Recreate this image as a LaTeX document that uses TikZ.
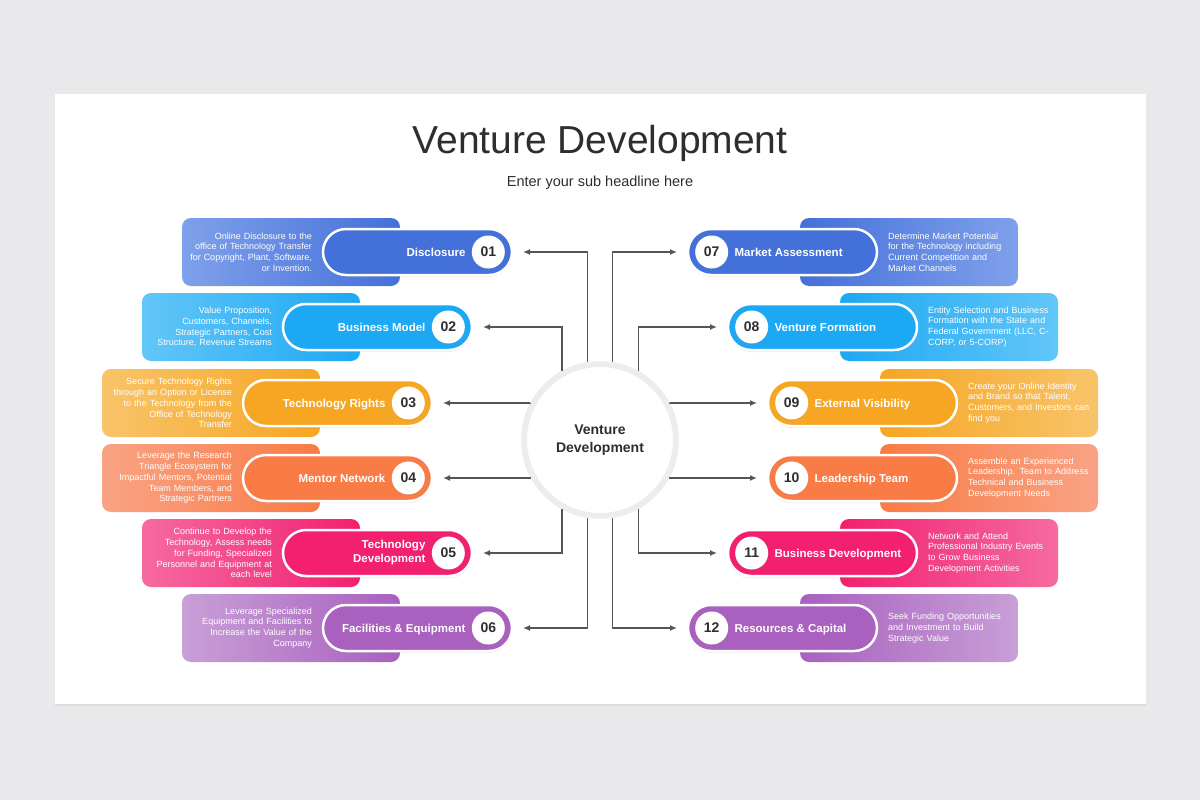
\documentclass[tikz,border=0pt]{standalone}
\usepackage{fontspec}
\setmainfont{Liberation Sans}
\usetikzlibrary{positioning,arrows.meta,shadows}

\definecolor{bg}{HTML}{E9E9EB}
\definecolor{ink}{HTML}{2E2E2E}
\definecolor{cwire}{HTML}{555555}
\definecolor{cblue}{HTML}{4470DA}   \definecolor{cbluel}{HTML}{7FA0EA}
\definecolor{csky}{HTML}{1DA8F3}    \definecolor{cskyl}{HTML}{62C6F8}
\definecolor{camber}{HTML}{F6A623}  \definecolor{camberl}{HTML}{F8C46A}
\definecolor{corange}{HTML}{F97B45} \definecolor{corangel}{HTML}{F9A385}
\definecolor{cpink}{HTML}{F2206F}   \definecolor{cpinkl}{HTML}{F56AA0}
\definecolor{cpurple}{HTML}{A960BE} \definecolor{cpurplel}{HTML}{C89FD7}

\begin{document}
\begin{tikzpicture}[
    x=1pt, y=-1pt,
    >={Latex[length=7pt,width=6pt]},
    pill/.style={rectangle, rounded corners=23pt, draw=white, line width=2.5pt, minimum width=189pt, minimum height=46pt, inner sep=0pt, outer sep=0pt, drop shadow={opacity=0.15, shadow xshift=0pt, shadow yshift=-2pt}},
    info/.style={rectangle, rounded corners=9pt, minimum width=218pt, minimum height=68pt, inner sep=0pt},
    num/.style={circle, fill=white, minimum size=33pt, inner sep=0pt, text=ink, font=\fontsize{14}{16}\selectfont\bfseries, drop shadow={opacity=0.2, shadow xshift=0pt, shadow yshift=-1pt}},
    lbl/.style={text=white, inner sep=0pt, text height=8.5pt, text depth=0.5pt, font=\fontsize{11.5}{14}\selectfont\bfseries},
    txt/.style={text=white, inner sep=0pt, text width=124pt, font=\fontsize{9}{10.8}\selectfont},
    wire/.style={->, draw=cwire, line width=1.6pt, shorten >=11pt}
  ]
    % slide
    \fill[bg] (0,0) rectangle (1200,800);
    \fill[white, drop shadow={opacity=0.12, shadow xshift=0pt, shadow yshift=-2pt}] (55,94) rectangle (1146,704);

    \node[text=ink, font=\fontsize{39}{44}\selectfont] (title) at (600,143) {Venture Development};
    \node[text=ink, font=\fontsize{14.5}{17}\selectfont] (sub) at (600,183) {Enter your sub headline here};

    \node[circle, fill=white, draw=black!7, line width=6pt, minimum size=152pt, align=center, text=ink, font=\fontsize{14}{18}\selectfont\bfseries] (hub) at (600,440) {Venture\\Development};

    % left side
    \node[info, left color=cbluel, right color=cblue] (i1) at (291,252) {};
    \node[pill, fill=cblue] (p1) at (417.5,252) {};
    \node[num, anchor=east, xshift=-7pt] (n1) at (p1.east) {01};
    \node[lbl, left=6pt of n1, align=right] (l1) {Disclosure};
    \node[txt, left=11pt of p1, align=right] (t1) {Online Disclosure to the\\office of Technology Transfer\\for Copyright, Plant, Software,\\or Invention.};

    \node[info, left color=cskyl, right color=csky] (i2) at (251,327) {};
    \node[pill, fill=csky] (p2) at (377.5,327) {};
    \node[num, anchor=east, xshift=-7pt] (n2) at (p2.east) {02};
    \node[lbl, left=6pt of n2, align=right] (l2) {Business Model};
    \node[txt, left=11pt of p2, align=right] (t2) {Value Proposition,\\Customers, Channels,\\Strategic Partners, Cost\\Structure, Revenue Streams};

    \node[info, left color=camberl, right color=camber] (i3) at (211,403) {};
    \node[pill, fill=camber] (p3) at (337.5,403) {};
    \node[num, anchor=east, xshift=-7pt] (n3) at (p3.east) {03};
    \node[lbl, left=6pt of n3, align=right] (l3) {Technology Rights};
    \node[txt, left=11pt of p3, align=right] (t3) {Secure Technology Rights\\through an Option or License\\to the Technology from the\\Office of Technology\\Transfer};

    \node[info, left color=corangel, right color=corange] (i4) at (211,478) {};
    \node[pill, fill=corange] (p4) at (337.5,478) {};
    \node[num, anchor=east, xshift=-7pt] (n4) at (p4.east) {04};
    \node[lbl, left=6pt of n4, align=right] (l4) {Mentor Network};
    \node[txt, left=11pt of p4, align=right] (t4) {Leverage the Research\\Triangle Ecosystem for\\Impactful Mentors, Potential\\Team Members, and\\Strategic Partners};

    \node[info, left color=cpinkl, right color=cpink] (i5) at (251,553) {};
    \node[pill, fill=cpink] (p5) at (377.5,553) {};
    \node[num, anchor=east, xshift=-7pt] (n5) at (p5.east) {05};
    \node[lbl, text height=, text depth=, left=6pt of n5, align=right] (l5) {Technology\\Development};
    \node[txt, left=11pt of p5, align=right] (t5) {Continue to Develop the\\Technology, Assess needs\\for Funding, Specialized\\Personnel and Equipment at\\each level};

    \node[info, left color=cpurplel, right color=cpurple] (i6) at (291,628) {};
    \node[pill, fill=cpurple] (p6) at (417.5,628) {};
    \node[num, anchor=east, xshift=-7pt] (n6) at (p6.east) {06};
    \node[lbl, left=6pt of n6, align=right] (l6) {Facilities \& Equipment};
    \node[txt, left=11pt of p6, align=right] (t6) {Leverage Specialized\\Equipment and Facilities to\\Increase the Value of the\\Company};

    % right side
    \node[info, left color=cblue, right color=cbluel] (i7) at (909,252) {};
    \node[pill, fill=cblue] (p7) at (782.5,252) {};
    \node[num, anchor=west, xshift=7pt] (n7) at (p7.west) {07};
    \node[lbl, right=6pt of n7, align=left] (l7) {Market Assessment};
    \node[txt, right=11pt of p7, align=left] (t7) {Determine Market Potential\\for the Technology including\\Current Competition and\\Market Channels};

    \node[info, left color=csky, right color=cskyl] (i8) at (949,327) {};
    \node[pill, fill=csky] (p8) at (822.5,327) {};
    \node[num, anchor=west, xshift=7pt] (n8) at (p8.west) {08};
    \node[lbl, right=6pt of n8, align=left] (l8) {Venture Formation};
    \node[txt, right=11pt of p8, align=left] (t8) {Entity Selection and Business\\Formation with the State and\\Federal Government (LLC, C-\\CORP, or 5-CORP)};

    \node[info, left color=camber, right color=camberl] (i9) at (989,403) {};
    \node[pill, fill=camber] (p9) at (862.5,403) {};
    \node[num, anchor=west, xshift=7pt] (n9) at (p9.west) {09};
    \node[lbl, right=6pt of n9, align=left] (l9) {External Visibility};
    \node[txt, right=11pt of p9, align=left] (t9) {Create your Online Identity\\and Brand so that Talent,\\Customers, and Investors can\\find you};

    \node[info, left color=corange, right color=corangel] (i10) at (989,478) {};
    \node[pill, fill=corange] (p10) at (862.5,478) {};
    \node[num, anchor=west, xshift=7pt] (n10) at (p10.west) {10};
    \node[lbl, right=6pt of n10, align=left] (l10) {Leadership Team};
    \node[txt, right=11pt of p10, align=left] (t10) {Assemble an Experienced\\Leadership. Team to Address\\Technical and Business\\Development Needs};

    \node[info, left color=cpink, right color=cpinkl] (i11) at (949,553) {};
    \node[pill, fill=cpink] (p11) at (822.5,553) {};
    \node[num, anchor=west, xshift=7pt] (n11) at (p11.west) {11};
    \node[lbl, right=6pt of n11, align=left] (l11) {Business Development};
    \node[txt, right=11pt of p11, align=left] (t11) {Network and Attend\\Professional Industry Events\\to Grow Business\\Development Activities};

    \node[info, left color=cpurple, right color=cpurplel] (i12) at (909,628) {};
    \node[pill, fill=cpurple] (p12) at (782.5,628) {};
    \node[num, anchor=west, xshift=7pt] (n12) at (p12.west) {12};
    \node[lbl, right=6pt of n12, align=left] (l12) {Resources \& Capital};
    \node[txt, right=11pt of p12, align=left] (t12) {Seek Funding Opportunities\\and Investment to Build\\Strategic Value};

    % connectors
    \draw[wire] (hub.99) |- (p1.east);
    \draw[wire] (hub.119) |- (p2.east);
    \draw[wire] (hub.152) |- (p3.east);
    \draw[wire] (hub.208) |- (p4.east);
    \draw[wire] (hub.241) |- (p5.east);
    \draw[wire] (hub.261) |- (p6.east);
    \draw[wire] (hub.81) |- (p7.west);
    \draw[wire] (hub.61) |- (p8.west);
    \draw[wire] (hub.28) |- (p9.west);
    \draw[wire] (hub.332) |- (p10.west);
    \draw[wire] (hub.299) |- (p11.west);
    \draw[wire] (hub.279) |- (p12.west);
\end{tikzpicture}
\end{document}
